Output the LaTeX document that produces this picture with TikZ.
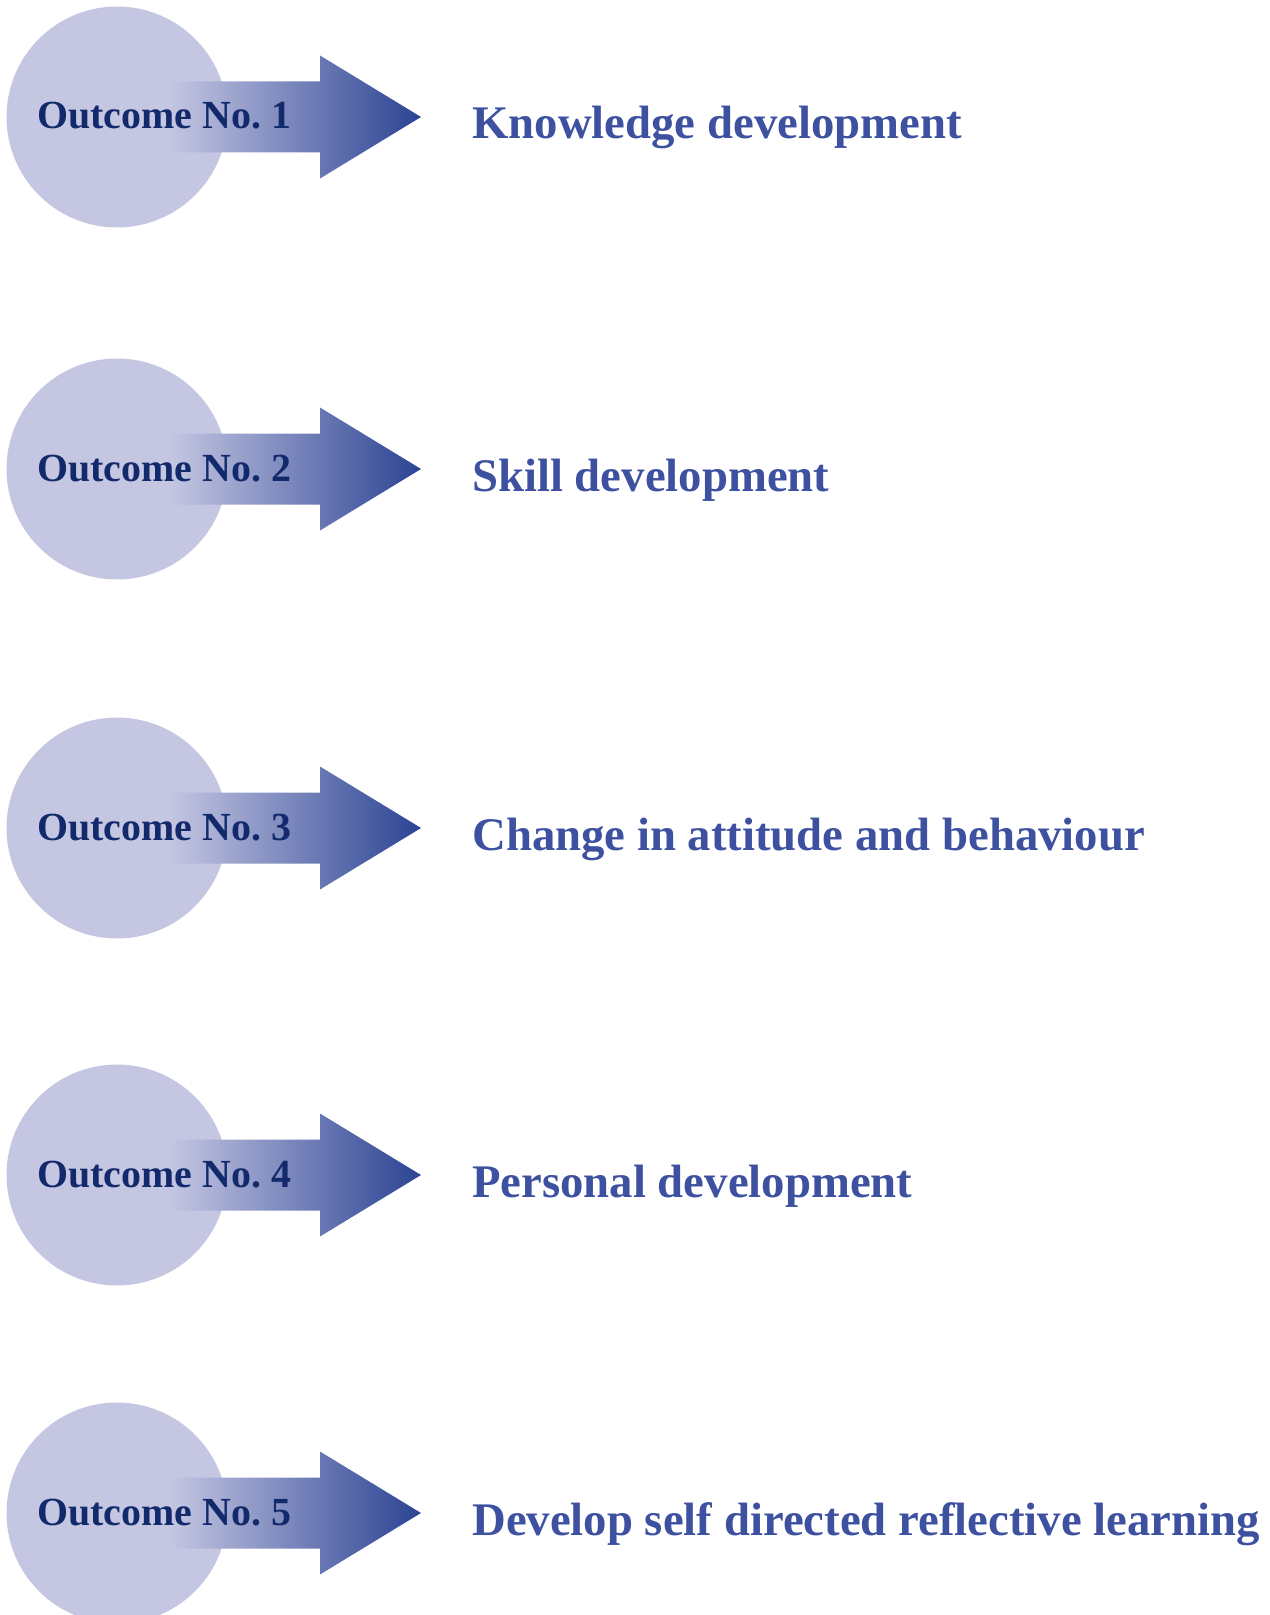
\documentclass[tikz,border=0pt]{standalone}
\usepackage{fontspec}
\setmainfont{Liberation Serif}
\usetikzlibrary{positioning}

\definecolor{discfill}{HTML}{C4C6E2}
\definecolor{arrowtip}{HTML}{2B4393}
\definecolor{outcomeblue}{HTML}{122A6C}
\definecolor{resultblue}{HTML}{3D51A0}

\begin{document}
\begin{tikzpicture}[
    x=0.02cm, y=-0.02cm, % one unit is one pixel of the reference
    disc/.style={circle, fill=discfill, minimum size=4.42cm, inner sep=0pt},
    outcome_style/.style={anchor=base west, inner sep=0pt, text=outcomeblue,
        font=\fontsize{22.7}{26}\selectfont\bfseries},
    result_style/.style={anchor=base west, inner sep=0pt, text=resultblue,
        font=\fontsize{26.6}{32}\selectfont\bfseries}
]
    % Page frame
    \useasboundingbox (0,0) rectangle (1269,1615);
    \clip (0,0) rectangle (1269,1615);

    % One row per outcome: disc, shaded arrow, labels
    \foreach \y/\n/\res in {117/1/Knowledge development,
                            469/2/Skill development,
                            828/3/Change in attitude and behaviour,
                            1175/4/Personal development,
                            1513/5/Develop self directed reflective learning}{
        \node[disc] (disc\n) at (117,\y) {};
        \shade[left color=discfill, right color=arrowtip]
            (170,\y-35.5) -- (320,\y-35.5) -- (320,\y-61.5) -- (421,\y)
            -- (320,\y+61.5) -- (320,\y+35.5) -- (170,\y+35.5) -- cycle;
        \node[outcome_style] (outcome\n) at (37,\y+12) {Outcome No.~\n};
        \node[result_style] (result\n) at (472,\y+22) {\res};
    }
\end{tikzpicture}
\end{document}
